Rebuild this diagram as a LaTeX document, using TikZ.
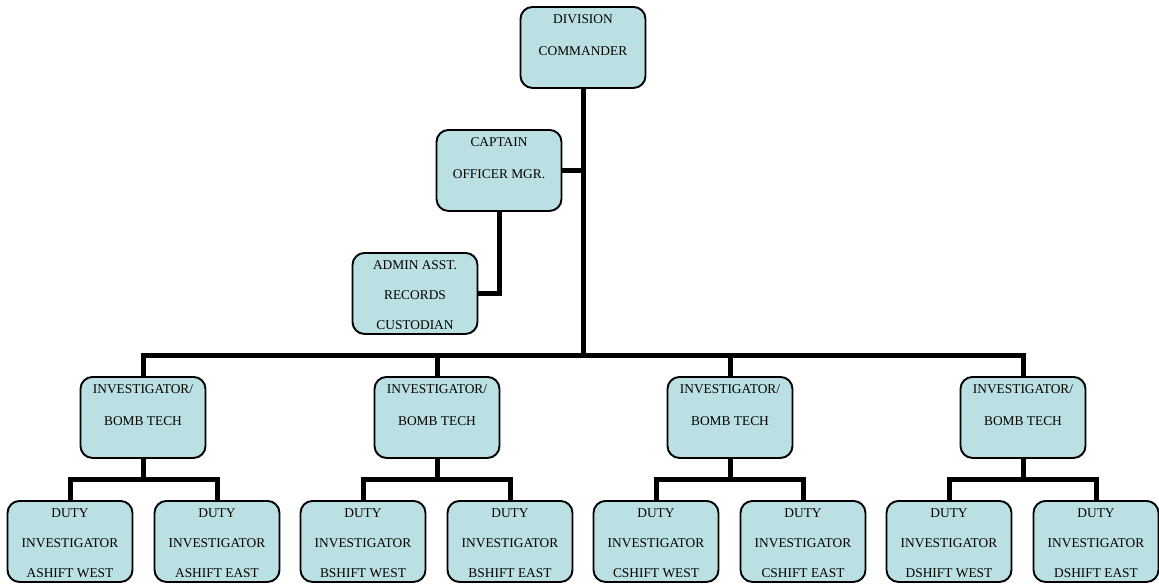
\documentclass[tikz,border=0pt]{standalone}
\usepackage{fontspec}
\setmainfont{Liberation Serif}
\definecolor{boxfill}{RGB}{187,224,227}
\begin{document}
\begin{tikzpicture}[x=1pt,y=-1pt,
  box/.style={draw=black, line width=1.9pt, rounded corners=12pt, fill=boxfill,
    minimum width=125pt, minimum height=81pt, inner sep=0pt, anchor=north},
  txt/.style={anchor=north, inner sep=0pt, align=center,
    font=\fontsize{13.4}{30}\selectfont},
  txtwide/.style={txt, font=\fontsize{13.4}{32}\selectfont},
  conn/.style={draw=black, line width=5pt, line join=miter}]
\useasboundingbox (0,0) rectangle (1159,584);

% boxes
\node[box] (dc) at (583,6) {};
\node[box] (cap) at (499,129) {};
\node[box] (adm) at (415,252) {};
\foreach \i/\x in {1/143,2/437,3/730,4/1023}
  \node[box] (inv\i) at (\x,376) {};
\foreach \i/\x in {1/70,2/217,3/363,4/510,5/656,6/803,7/949,8/1096}
  \node[box] (d\i) at (\x,500) {};

% texts
\node[txtwide] (dct) at ([yshift=-8.5pt]dc.north) {DIVISION\\COMMANDER};
\node[txtwide] (capt) at ([yshift=-8.5pt]cap.north) {CAPTAIN\\OFFICER MGR.};
\node[txt] (admt) at ([yshift=-8.5pt]adm.north) {ADMIN ASST.\\RECORDS\\CUSTODIAN};
\foreach \i in {1,...,4}
  \node[txtwide] (invt\i) at ([yshift=-8.5pt]inv\i.north) {INVESTIGATOR/\\BOMB TECH};
\foreach \i/\s/\w in {1/A/WEST,2/A/EAST,3/B/WEST,4/B/EAST,5/C/WEST,6/C/EAST,7/D/WEST,8/D/EAST}
  \node[txt] (dt\i) at ([yshift=-8.5pt]d\i.north) {DUTY\\INVESTIGATOR\\\s SHIFT \w};

% connectors
\coordinate (bus) at (583,355);
\draw[conn] (dc.south) -- (bus);
\draw[conn] (cap.east) -- (cap.east -| dc.south);
\draw[conn] (cap.south) |- (adm.east);
\draw[conn] (inv1.north) |- (bus) -| (inv4.north);
\draw[conn] (inv2.north) -- (inv2.north |- bus);
\draw[conn] (inv3.north) -- (inv3.north |- bus);
\foreach \i/\a/\b in {1/1/2,2/3/4,3/5/6,4/7/8}{
  \path (inv\i.south) ++(0,20.5) coordinate (s\i);
  \draw[conn] (inv\i.south) -- (s\i);
  \draw[conn] (d\a.north) |- (s\i) -| (d\b.north);
}
\end{tikzpicture}
\end{document}
